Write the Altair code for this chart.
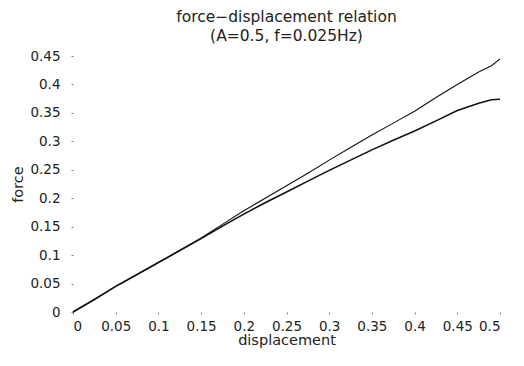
import altair as alt
import pandas as pd

# displacement readings
disp = [0.0, 0.025, 0.05, 0.075, 0.1, 0.125, 0.15, 0.175, 0.2, 0.225, 0.25,
        0.275, 0.3, 0.325, 0.35, 0.375, 0.4, 0.425, 0.45, 0.475, 0.49, 0.5]
# upper branch
force_upper = [0.0, 0.022, 0.045, 0.066, 0.087, 0.108, 0.130, 0.154, 0.178, 0.200, 0.222,
               0.244, 0.267, 0.289, 0.311, 0.332, 0.353, 0.377, 0.400, 0.422, 0.433, 0.445]
# lower branch
force_lower = [0.0, 0.022, 0.045, 0.066, 0.087, 0.108, 0.129, 0.151, 0.172, 0.192, 0.211,
               0.230, 0.249, 0.267, 0.285, 0.302, 0.318, 0.336, 0.354, 0.367, 0.373, 0.374]

x_ticks = [0, 0.05, 0.1, 0.15, 0.2, 0.25, 0.3, 0.35, 0.4, 0.45, 0.5]
y_ticks = [0, 0.05, 0.1, 0.15, 0.2, 0.25, 0.3, 0.35, 0.4, 0.45]

rows = []
for i, d in enumerate(disp):
    rows.append({"displacement": d, "force": force_upper[i], "branch": "upper", "order": i})
for i, d in enumerate(disp):
    rows.append({"displacement": d, "force": force_lower[i], "branch": "lower", "order": i})
df = pd.DataFrame(rows)

FONT = "DejaVu Sans"

x_enc = alt.X("displacement:Q",
              scale=alt.Scale(domain=[0, 0.5], nice=False, zero=False),
              axis=alt.Axis(values=x_ticks, title="displacement", domain=False, grid=False,
                            tickSize=2, tickColor="#777", labelPadding=5,
                            format="~g", titlePadding=1))
y_enc = alt.Y("force:Q",
              scale=alt.Scale(domain=[0, 0.45], nice=False),
              axis=alt.Axis(values=y_ticks, title="force", domain=False, grid=False,
                            tickSize=2, tickColor="#777", labelPadding=11,
                            format="~g", titlePadding=4))

upper = alt.Chart(df[df.branch == "upper"]).mark_line(color="#111", strokeWidth=1.1).encode(
    x=x_enc, y=y_enc, order="order:Q")
lower = alt.Chart(df[df.branch == "lower"]).mark_line(color="#111", strokeWidth=1.6).encode(
    x=x_enc, y=y_enc, order="order:Q")

chart = alt.layer(upper, lower).properties(
    width=427, height=256,
    title=alt.TitleParams(text=["force\u2212displacement relation", "(A=0.5, f=0.025Hz)"],
                          font=FONT, fontSize=15.5, fontWeight="normal", color="#222",
                          anchor="middle", offset=5, lineHeight=19),
    autosize=alt.AutoSizeParams(type="none"),
    padding={"left": 65, "top": 48, "right": 16, "bottom": 44},
).configure_view(stroke=None).configure_axis(
    labelFont=FONT, labelFontSize=13.5, labelColor="#222",
    titleFont=FONT, titleFontSize=14.5, titleFontWeight="normal", titleColor="#222",
)

chart.save("out.html", embed_options={"renderer": "svg", "actions": False})
